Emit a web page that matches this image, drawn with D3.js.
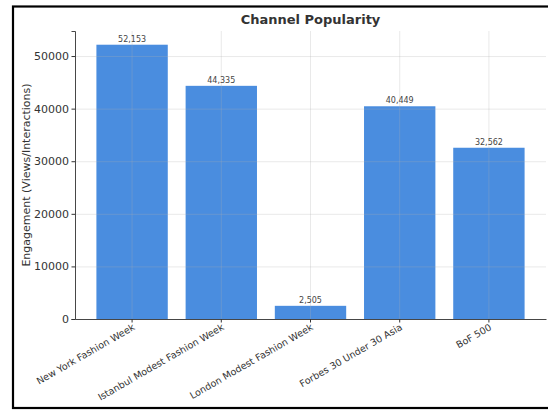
<!DOCTYPE html>
<html><head><meta charset="utf-8">
<script src="https://cdn.jsdelivr.net/npm/d3@7"></script>
<style>body{margin:0;background:#fff;} svg{display:block;font-family:"DejaVu Sans",sans-serif;}</style>
</head><body>
<svg id="c" width="548" height="410"></svg>
<script>
const categories = ["New York Fashion Week","Istanbul Modest Fashion Week","London Modest Fashion Week","Forbes 30 Under 30 Asia","BoF 500"];
const values = [52153, 44335, 2505, 40449, 32562];
const yTicks = [0, 10000, 20000, 30000, 40000, 50000];
const title = "Channel Popularity";
const yLabel = "Engagement (Views/Interactions)";

const svg = d3.select("#c");
const L = 75, R = 546, T = 31, B = 319;
const x = d3.scaleBand().domain(categories).range([L, R]).paddingInner(0.2).paddingOuter(0.24);
const y = d3.scaleLinear().domain([0, d3.max(values) * 1.05]).range([B, T]);

// outer border (right edge falls outside the picture)
svg.append("rect").attr("x", 13).attr("y", 6.5).attr("width", 560).attr("height", 401.5)
  .attr("fill", "none").attr("stroke", "#000").attr("stroke-width", 2.2);

// bars
svg.append("g").selectAll("rect").data(values).join("rect")
  .attr("x", (d, i) => x(categories[i]))
  .attr("y", d => y(d))
  .attr("width", x.bandwidth())
  .attr("height", d => y(0) - y(d))
  .attr("fill", "#4a8ddf");

// grid (drawn over bars, faint)
const grid = svg.append("g").attr("stroke", "#b0b0b0").attr("stroke-opacity", 0.35).attr("stroke-width", 0.8);
grid.selectAll("line.h").data(yTicks).join("line").attr("class", "h")
  .attr("x1", L).attr("x2", R).attr("y1", d => y(d) + 0.5).attr("y2", d => y(d) + 0.5);
grid.selectAll("line.v").data(categories).join("line").attr("class", "v")
  .attr("x1", d => x(d) + x.bandwidth() / 2).attr("x2", d => x(d) + x.bandwidth() / 2)
  .attr("y1", T).attr("y2", B);

// value labels
svg.append("g").selectAll("text").data(values).join("text")
  .attr("x", (d, i) => x(categories[i]) + x.bandwidth() / 2)
  .attr("y", d => y(d) - 3)
  .attr("text-anchor", "middle").attr("font-size", 8).attr("fill", "#444")
  .text(d => d3.format(",")(d));

// y axis
const ya = svg.append("g").attr("transform", `translate(${L},0)`)
  .call(d3.axisLeft(y).tickValues(yTicks).tickFormat(d3.format("d")).tickSize(3.5).tickPadding(2.5));
ya.select(".domain").attr("stroke", "#333").attr("stroke-width", 0.9);
ya.selectAll(".tick line").attr("stroke", "#333");
ya.selectAll("text").attr("font-size", 11).attr("fill", "#333").attr("font-family", "DejaVu Sans");

// x axis
const xa = svg.append("g").attr("transform", `translate(0,${B})`)
  .call(d3.axisBottom(x).tickSize(3.5).tickPadding(3).tickSizeOuter(0));
xa.select(".domain").attr("stroke", "#333").attr("stroke-width", 0.9);
xa.selectAll(".tick line").attr("stroke", "#333");
xa.selectAll("text").attr("font-size", 9.5).attr("fill", "#333").attr("font-family", "DejaVu Sans")
  .attr("text-anchor", "end").attr("dy", "0.5em")
  .attr("transform", "translate(1,6) rotate(-30)").attr("y", 0).attr("x", 0);

// title
svg.append("text").attr("x", (L + R) / 2).attr("y", 24).attr("text-anchor", "middle")
  .attr("font-size", 13).attr("font-weight", "bold").attr("fill", "#333").text(title);

// y label
svg.append("text").attr("transform", `translate(26,${(T + B) / 2}) rotate(-90)`)
  .attr("text-anchor", "middle").attr("dominant-baseline", "central")
  .attr("font-size", 11).attr("fill", "#333").text(yLabel);
</script>
</body></html>
